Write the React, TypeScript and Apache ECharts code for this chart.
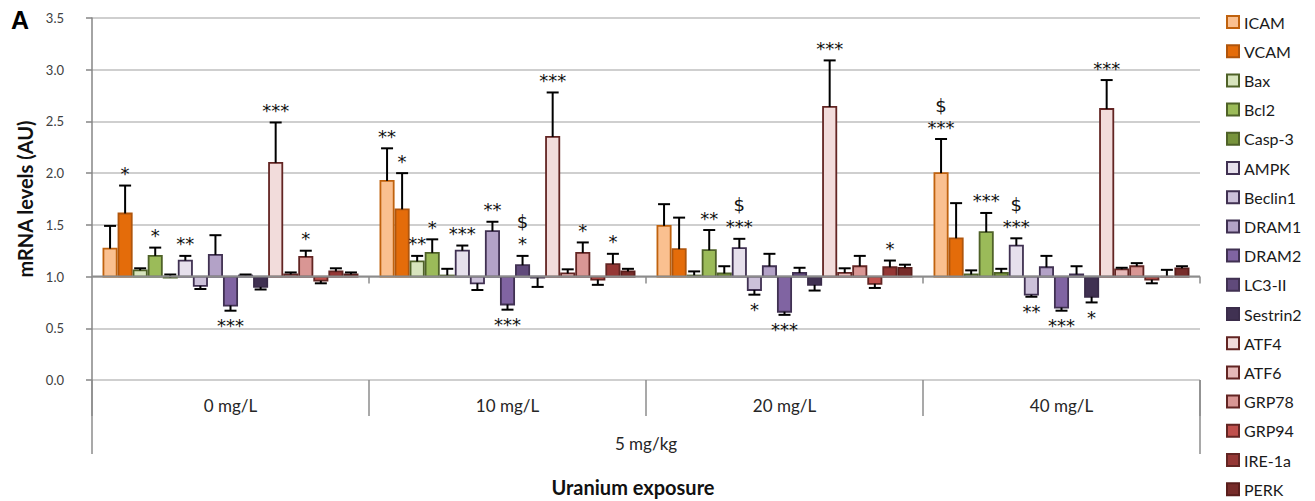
import React, { useEffect, useRef } from "react";
import * as echarts from "echarts";

const categories = ["0 mg/L", "10 mg/L", "20 mg/L", "40 mg/L"];
const outerCategory = ["5 mg/kg"];
const genes = ["ICAM", "VCAM", "Bax", "Bcl2", "Casp-3", "AMPK", "Beclin1", "DRAM1", "DRAM2", "LC3-II", "Sestrin2", "ATF4", "ATF6", "GRP78", "GRP94", "IRE-1a", "PERK"];
const fillColors = ["#FAC090", "#E46C0A", "#D7E4BD", "#9BBB59", "#77933C", "#E6E0EC", "#CCC1DA", "#B3A2C7", "#8064A2", "#604A7B", "#403152", "#F2DCDB", "#E6B9B8", "#D99694", "#C0504D", "#953735", "#772C2A"];
const borderColors = ["#C0620E", "#B0550C", "#4F6228", "#4F6228", "#4F6228", "#403152", "#403152", "#403152", "#403152", "#403152", "#3A2C4A", "#632523", "#632523", "#632523", "#632523", "#632523", "#5A1E1C"];

// mean values per dose group (order = genes)
const mean0 = [1.27, 1.61, 1.06, 1.2, 0.99, 1.155, 0.91, 1.21, 0.72, 1.01, 0.9, 2.1, 1.02, 1.19, 0.96, 1.05, 1.02];
const mean10 = [1.925, 1.65, 1.146, 1.23, 1.01, 1.25, 0.935, 1.44, 0.73, 1.11, 0.99, 2.35, 1.03, 1.23, 0.97, 1.12, 1.05];
const mean20 = [1.49, 1.265, 1.01, 1.255, 1.03, 1.275, 0.87, 1.1, 0.66, 1.035, 0.92, 2.64, 1.035, 1.1, 0.93, 1.09, 1.085];
const mean40 = [2.0, 1.37, 1.02, 1.43, 1.035, 1.3, 0.825, 1.09, 0.7, 1.02, 0.805, 2.62, 1.07, 1.1, 0.97, 1.0, 1.08];

// error bar lengths (signed: negative = drawn downward)
const err0 = [0.22, 0.27, 0.02, 0.08, 0.03, 0.045, -0.03, 0.19, -0.05, 0.01, -0.025, 0.39, 0.02, 0.06, -0.025, 0.03, 0.02];
const err10 = [0.315, 0.35, 0.054, 0.13, 0.065, 0.05, -0.065, 0.09, -0.05, 0.09, -0.09, 0.43, 0.04, 0.1, -0.05, 0.1, 0.025];
const err20 = [0.21, 0.305, 0.04, 0.195, 0.07, 0.09, -0.045, 0.12, -0.03, 0.05, -0.055, 0.45, 0.045, 0.1, -0.04, 0.065, 0.03];
const err40 = [0.33, 0.34, 0.04, 0.185, 0.04, 0.07, -0.02, 0.11, -0.03, 0.08, -0.055, 0.28, 0.015, 0.03, -0.035, 0.065, 0.02];

// significance marks
const sig0 = ["", "*", "", "*", "", "**", "", "", "***", "", "", "***", "", "*", "", "", ""];
const sig10 = ["**", "*", "**", "*", "", "***", "", "**", "***", "$\n*", "", "***", "", "*", "", "*", ""];
const sig20 = ["", "", "", "**", "", "$\n***", "*", "", "***", "", "", "***", "", "", "", "*", ""];
const sig40 = ["$\n***", "", "", "***", "", "$\n***", "**", "", "***", "", "*", "***", "", "", "", "", ""];

const means = [mean0, mean10, mean20, mean40];
const errs = [err0, err10, err20, err40];
const sigs = [sig0, sig10, sig20, sig40];

const FONT = "Lato, 'Open Sans', sans-serif";

export default function App() {
  const ref = useRef<HTMLDivElement>(null);
  useEffect(() => {
    if (!ref.current) return;
    const chart = echarts.init(ref.current, null, { renderer: "svg" });
    const nGenes = genes.length;
    const barSeries: any[] = genes.map((g, s) => ({
      type: "custom",
      name: g,
      itemStyle: { color: fillColors[s], borderColor: borderColors[s] },
      encode: { x: 0, y: 1 },
      clip: false,
      data: categories.map((c, gi) => [gi, means[gi][s], errs[gi][s]]),
      renderItem: (params: any, api: any) => {
        const gi = api.value(0);
        const m = api.value(1);
        const e = api.value(2);
        const band = api.size([1, 0])[0];
        const base = api.coord([gi, 1]);
        const top = api.coord([gi, m]);
        const end = api.coord([gi, m + e]);
        const inner = band * 0.924;
        const bw = inner / nGenes;
        const x = base[0] - inner / 2 + s * bw;
        const cx = x + bw / 2;
        const y0 = Math.min(base[1], top[1]);
        const h = Math.abs(base[1] - top[1]);
        const children: any[] = [
          {
            type: "rect",
            shape: { x: x + 0.9, y: y0, width: bw - 1.8, height: h },
            style: { fill: fillColors[s], stroke: borderColors[s], lineWidth: 1.8 },
          },
          {
            type: "line",
            shape: { x1: cx, y1: top[1], x2: cx, y2: end[1] },
            style: { stroke: "#000", lineWidth: 2 },
          },
          {
            type: "line",
            shape: { x1: cx - 6, y1: end[1], x2: cx + 6, y2: end[1] },
            style: { stroke: "#000", lineWidth: 2 },
          },
        ];
        const label = sigs[gi][s];
        if (label) {
          const down = e < 0;
          children.push({
            type: "text",
            style: {
              text: label,
              x: cx,
              y: down ? end[1] + 4 : end[1] - 1,
              align: "center",
              verticalAlign: down ? "top" : "bottom",
              fill: "#111",
              fontSize: 18,
              fontFamily: "DejaVu Sans",
              lineHeight: 22,
            },
          });
        }
        return { type: "group", children };
      },
    }));

    const baselineSeries = {
      type: "custom",
      name: "baseline",
      silent: true,
      z: 5,
      encode: { x: 0, y: 1 },
      data: categories.map((c, i) => [i, 1]),
      renderItem: (params: any, api: any) => {
        const gi = api.value(0);
        const band = api.size([1, 0])[0];
        const p = api.coord([gi, 1]);
        const l = p[0] - band / 2;
        const r = p[0] + band / 2;
        return {
          type: "group",
          children: [
            { type: "line", shape: { x1: l, y1: p[1], x2: r, y2: p[1] }, style: { stroke: "#8C8C8C", lineWidth: 2 } },
            { type: "line", shape: { x1: r, y1: p[1], x2: r, y2: p[1] + 7 }, style: { stroke: "#8C8C8C", lineWidth: 1.5 } },
          ],
        };
      },
    };

    chart.setOption({
      animation: false,
      backgroundColor: "#fff",
      grid: { left: 92, right: 115, top: 18, bottom: 121, containLabel: false },
      legend: {
        orient: "vertical",
        left: 1226,
        top: 14,
        height: 490,
        padding: 0,
        itemWidth: 12,
        itemHeight: 12,
        itemGap: 13.2,
        textStyle: { fontSize: 16, lineHeight: 16, fontFamily: FONT, color: "#1A1A1A" },
        data: genes.map((g, i) => ({
          name: g,
          icon: "rect",
          itemStyle: { color: fillColors[i], borderColor: borderColors[i], borderWidth: 2 },
        })),
        selectedMode: false,
      },
      xAxis: [
        {
          type: "category",
          data: categories,
          position: "bottom",
          axisLine: { show: false },
          axisTick: { show: true, length: 36, interval: 0, lineStyle: { color: "#8C8C8C", width: 1.5 } },
          axisLabel: { margin: 17, fontSize: 17, fontFamily: FONT, color: "#262626", interval: 0 },
          splitLine: { show: false },
        },
        {
          type: "category",
          data: outerCategory,
          position: "bottom",
          axisLine: { show: false },
          axisTick: { show: true, length: 74, lineStyle: { color: "#8C8C8C", width: 1.5 } },
          axisLabel: { margin: 55, fontSize: 17, fontFamily: FONT, color: "#262626" },
          splitLine: { show: false },
        },
      ],
      yAxis: {
        type: "value",
        min: 0,
        max: 3.5,
        interval: 0.5,
        axisLine: { show: true, lineStyle: { color: "#868686", width: 1.5 } },
        axisTick: { show: true, length: 6, lineStyle: { color: "#868686", width: 1.5 } },
        axisLabel: { formatter: (v: number) => v.toFixed(1), color: "#404040", fontSize: 13, fontFamily: FONT, margin: 28 },
        splitLine: { show: true, lineStyle: { color: "#BFBFBF", width: 1.5 } },
        name: "mRNA levels (AU)",
        nameLocation: "middle",
        nameGap: 56,
        nameTextStyle: { fontWeight: "bold", fontSize: 20, fontFamily: FONT, color: "#111" },
      },
      graphic: [
        { type: "text", left: 11, top: 7, style: { text: "A", font: "bold 25px 'Liberation Sans', Arial, sans-serif", fill: "#000" } },
        {
          type: "text",
          x: 633,
          y: 487,
          style: { text: "Uranium exposure", font: `bold 20px ${FONT}`, fill: "#111", align: "center", verticalAlign: "middle" },
        },
      ],
      series: [...barSeries, baselineSeries],
    });
    return () => chart.dispose();
  }, []);
  return <div ref={ref} style={{ position: "fixed", left: 0, top: 0, width: 1315, height: 501 }} />;
}
